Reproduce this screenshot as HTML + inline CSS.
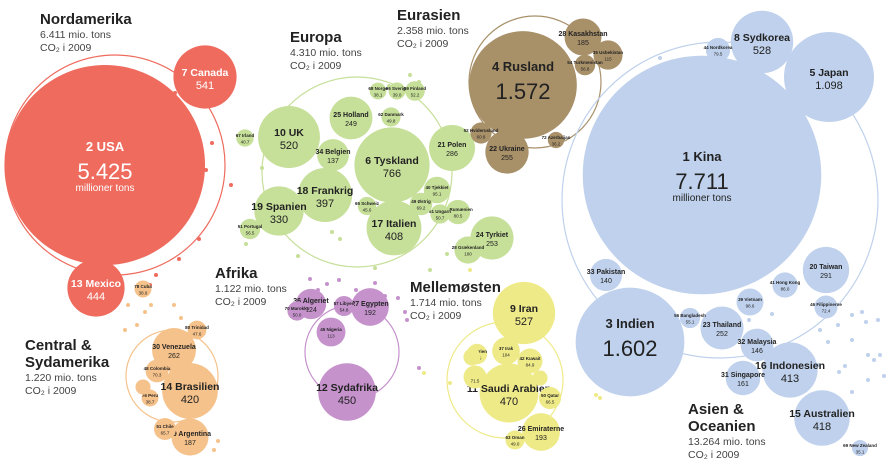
<!DOCTYPE html>
<html><head><meta charset="utf-8"><style>
html,body{margin:0;padding:0;background:#fff;}
svg{display:block;font-family:"Liberation Sans",sans-serif;}
.t{font-weight:bold;font-size:15px;fill:#222;}
.s{font-size:10.5px;fill:#444;}
</style></head><body>
<svg id="chart" width="892" height="469" viewBox="0 0 892 469"></svg>
<script>
// Data (values in mio. tons CO2 2009)
const names = ["2 USA","7 Canada","13 Mexico",
"10 UK","6 Tyskland","18 Frankrig","19 Spanien","17 Italien","21 Polen","25 Holland","24 Tyrkiet","34 Belgien","51 Portugal","67 Irland","68 Norge","66 Sverige","59 Finland","62 Danmark","40 Tjekkiet","43 Rumænien","28 Grækenland","65 Schweiz","61 Ungarn","49 Østrig",
"4 Rusland","22 Ukraine","28 Kasakhstan","35 Usbekistan","54 Turkmenistan","52 Hviderusland","72 Azerbaijan",
"1 Kina","5 Japan","8 Sydkorea","3 Indien","20 Taiwan","16 Indonesien","15 Australien","23 Thailand","32 Malaysia","31 Singapore","39 Vietnam","41 Hong Kong","46 Filippinerne","33 Pakistan","56 Bangladesh","44 Nordkorea","69 New Zealand",
"9 Iran","11 Saudi Arabien","26 Emiraterne","42 Kuwait","37 Irak","53 Syrien","50 Qatar","63 Oman","75 Bahrain","","",
"12 Sydafrika","27 Egypten","36 Algeriet","45 Nigeria","57 Libyen","70 Marokko",
"14 Brasilien","30 Venezuela","29 Argentina","48 Colombia","51 Chile","76 Peru","77 Ecuador","80 Trinidad","78 Cuba"];
const values = [5425,541,444,
520,766,397,330,408,286,249,253,137,56.5,40.7,38.1,39.0,52.2,49.8,95.1,80.5,100,45.6,50.7,69.2,
1572,255,185,115,56.8,60.8,36.2,
7711,1098,528,1602,291,413,418,252,146,161,98.6,86.0,72.4,140,55.1,79.5,35.1,
527,470,193,84.9,104,56.5,66.5,49.0,31.2,71.5,40,
450,192,124,113,54.8,50,
420,262,187,70.3,65.7,38.7,30.7,47.6,38.9];
const printed = ["5.425","541","444",
"520","766","397","330","408","286","249","253","137","56.5","40.7","38.1","39.0","52.2","49.8","95.1","80.5","100","45.6","50.7","69.2",
"1.572","255","185","115","56.8","60.8","36.2",
"7.711","1.098","528","1.602","291","413","418","252","146","161","98.6","86.0","72.4","140","55.1","79.5","35.1",
"527","470","193","84.9","104","56.5","66.5","49.0","31.2","71.5","",
"450","192","124","113","54.8","50.0",
"420","262","187","70.3","65.7","38.7","30.7","47.6","38.9"];
const regions = ["na","na","na",
"eu","eu","eu","eu","eu","eu","eu","eu","eu","eu","eu","eu","eu","eu","eu","eu","eu","eu","eu","eu","eu",
"ea","ea","ea","ea","ea","ea","ea",
"as","as","as","as","as","as","as","as","as","as","as","as","as","as","as","as","as",
"me","me","me","me","me","me","me","me","me","me","me",
"af","af","af","af","af","af",
"sa","sa","sa","sa","sa","sa","sa","sa","sa"];
// layout (packing positions)
const layoutX = [105,205,96, 289,392,325,279,394,452,351,492,333,250,245,378,397,415,391,437,458,468,367,440,421, 523,507,583,608,585,481,556, 702,829,762,630,826,790,822,722,757,743,750,785,826,606,690,718,860, 524,509,541,530,506,477,550,515,540,475,472, 347,370,311,331,344,297, 190,174,190,157,165,150,143,197,143];
const layoutY = [165,77,288, 137,165,195,211,228,148,118,238,155,229,138,91,91,91,117,190,212,250,206,214,204, 85,152,37,55,65,133,140, 175,77,42,342,270,370,418,328,345,378,302,285,307,275,318,50,448, 313,393,432,361,351,354,398,440,378,377,357, 392,307,304,332,306,311, 391,350,437,371,429,398,387,330,289];
const tinyX=[184,212,179,136,175,154,199,206,231,246,262,279,298,332,340,375,389,392,410,419,430,447,459,466,470,156,150,128,145,137,151,125,174,181,180,189,205,207,214,218,310,318,327,339,356,364,375,385,398,405,407,419,424,450,600,603,660,765,749,772,820,828,839,852,868,838,852,862,866,880,874,868,852,878,884,596,786,845,818];
const tinyY=[77,143,259,82,93,246,239,170,185,244,168,232,256,232,239,268,86,95,75,82,270,254,206,255,270,275,285,305,312,325,305,330,305,318,340,410,430,396,450,441,279,290,284,280,290,295,283,296,298,312,320,368,373,383,398,180,58,356,320,314,330,342,372,340,355,325,315,312,322,355,360,380,392,320,376,395,384,366,365];
const colors={na:"#ee6b5e",eu:"#c6df99",ea:"#a89069",as:"#bfd1ec",me:"#efea88",af:"#c592cc",sa:"#f6c28b"};
const rings={na:[115,165,110],eu:[357,172,95],ea:[535,82,66],as:[720,200,158],me:[505,380,58],af:[352,352,47],sa:[172,376,46]};
const titles=[["nordamerika-title",40,24,["Nordamerika"],"6.411 mio. tons"],["europa-title",290,42,["Europa"],"4.310 mio. tons"],["eurasien-title",397,20,["Eurasien"],"2.358 mio. tons"],["afrika-title",215,278,["Afrika"],"1.122 mio. tons"],["mellemosten-title",410,292,["Mellemøsten"],"1.714 mio. tons"],["central-sydamerika-title",25,350,["Central &","Sydamerika"],"1.220 mio. tons"],["asien-oceanien-title",688,414,["Asien &","Oceanien"],"13.264 mio. tons"]];

const K=1.358;
const NS="http://www.w3.org/2000/svg";
const svg=document.getElementById("chart");
function mk(tag,attrs,parent){const e=document.createElementNS(NS,tag);for(const k in attrs)e.setAttribute(k,attrs[k]);(parent||svg).appendChild(e);return e;}
const rScale=v=>K*Math.sqrt(v);

for(const k in rings){const [cx,cy,r]=rings[k];
 const c=mk("circle",{cx:cx,cy:cy,r:r,fill:"none",stroke:colors[k],"stroke-width":1.2});
 
 
}
function nearestRegion(x,y){let best=null,bd=1e9;for(const k in rings){const [cx,cy,r]=rings[k];const d=Math.abs(Math.hypot(x-cx,y-cy)-r*0.6);if(d<bd){bd=d;best=k;}}return best;}
tinyX.forEach((x,i)=>{
 const c=mk("circle",{cx:x,cy:tinyY[i],r:2,fill:colors[nearestRegion(x,tinyY[i])]});
 
 
});
names.forEach((n,i)=>{
 const r=rScale(values[i]);const x=layoutX[i],y=layoutY[i];
 const g=mk("g",{});
 
 
 mk("circle",{cx:x,cy:y,r:r,fill:colors[regions[i]]},g);
 const fc=regions[i]==="na"?"#fff":"#222";
 let nf,vf,big=r>=45;
 if(big){nf=13;vf=22;}else if(r>=24){nf=10.5;vf=11;}else if(r>=15){nf=7;vf=7;}else if(r>=8){nf=4.5;vf=4.5;}else return;
 const dy=big?-14:0;
 const t1=mk("text",{x:x,y:y+dy-(big?0:1),"text-anchor":"middle","font-size":nf,"font-weight":"bold",fill:fc},g);t1.textContent=n;
 const t2=mk("text",{x:x,y:y+dy+vf+(big?6:1),"text-anchor":"middle","font-size":vf,fill:fc},g);t2.textContent=printed[i];
 if(big&&(n==="2 USA"||n==="1 Kina")){const t3=mk("text",{x:x,y:y+dy+vf+18,"text-anchor":"middle","font-size":10,fill:fc},g);t3.textContent="millioner tons";}
});
titles.forEach(([id,x,y,lines,sub])=>{
 const g=mk("g",{});
 
 
 lines.forEach((l,j)=>{const t=mk("text",{x:x,y:y+j*17,class:"t"},g);t.textContent=l;});
 const b=y+(lines.length-1)*17;
 const s1=mk("text",{x:x,y:b+14,class:"s"},g);s1.textContent=sub;
 const s2=mk("text",{x:x,y:b+27,class:"s"},g);s2.textContent="CO₂ i 2009";
});
</script>
</body></html>
